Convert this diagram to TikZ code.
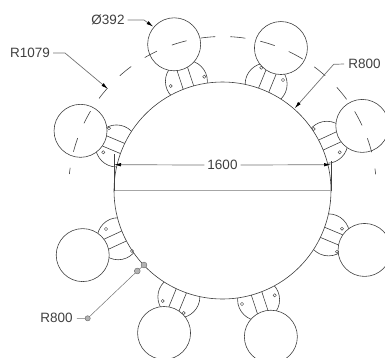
\documentclass[tikz,border=0pt]{standalone}
\usepackage{fontspec}
\setmainfont{Liberation Sans}
\usetikzlibrary{arrows.meta}
\definecolor{ink}{gray}{0.25}
\definecolor{lead}{gray}{0.45}
\tikzset{
  outline/.style={draw=ink,line width=0.6pt},
  shell/.style={outline,fill=white},
  dim/.style={draw=lead,line width=0.7pt},
  tipped/.style={dim,-{Latex[length=7pt,width=3.5pt,black]}},
  label/.style={text=ink,font=\fontsize{13.5}{15}\selectfont,inner sep=0pt,anchor=center},
  grip/.style={draw=lead,fill=gray!60,line width=0.5pt}
}
\begin{document}
\begin{tikzpicture}[x=1pt,y=-1pt]
\useasboundingbox (0,0) rectangle (385,357);
\clip (0,0) rectangle (385,357);
\def\cx{222.5}\def\cy{190.5}
\coordinate (c) at (\cx,\cy);
% small lobes, hidden by the big circles drawn above them
\foreach \t in {24.8,67.7,108.3,157.2,204.8,247.7,288.3,337.3}
  \draw[outline] ({\cx+115*cos(\t)},{\cy-115*sin(\t)}) circle[radius=21pt];
\draw[shell] (c) circle[radius=108.5pt];
\foreach \t in {24.8,67.7,108.3,157.2,204.8,247.7,288.3,337.3}{
  \draw[shell] ({\cx+154*cos(\t)},{\cy-154*sin(\t)}) circle[radius=26.5pt];
  \foreach \o in {-5.5,5.5}
    \draw[outline] ({\cx+108.4*cos(\t)+\o*sin(\t)},{\cy-108.4*sin(\t)+\o*cos(\t)})
      -- ({\cx+128*cos(\t)+\o*sin(\t)},{\cy-128*sin(\t)+\o*cos(\t)});
}
% holes
\foreach \p in {(170.7,86),(204.3,76.7),(109,128.3),(103.3,152.3),(261.3,67.7),(283,80),
  (313.7,129),(339.7,152.3),(106,229),(132,251),(162.7,301),(183.7,313),(242,304),
  (274.7,295.3),(342,228.7),(337,251.7)}
  \draw[outline,line width=0.45pt] \p circle[radius=1.6pt];
% dashed centre arc
\foreach \a/\b in {173.85/171.5,165.4/160.1,154.1/149,143.3/138.4,131.8/126.4,120.3/115.2,
  109.2/103.5,98.2/92.7,87.1/81.5,75.8/70.2,64.5/58.6,53.4/48.2,42.1/36.3,30.9/25,19.8/14.4,8.2/6}
  \draw[outline] plot[domain=\a:\b,samples=5,smooth] ({\cx+154*cos(\x)},{\cy-154*sin(\x)});
% chord and extension lines
\coordinate (cl) at (114,190.5);
\coordinate (cr) at (331,190.5);
\coordinate (el) at (114,154);
\coordinate (er) at (331,161);
\draw[dim,draw=gray!70,line width=0.9pt] (cl) -- (cr);
\draw[outline] (el) -- (cl);
\draw[outline] (er) -- (cr);
% 1600
\node[label] (d1600) at (222.5,165) {1600};
\coordinate (al) at (114,164.7);
\coordinate (ar) at (331,164.7);
\draw[tipped] (d1600.west) ++(-3,0) -- (al);
\draw[tipped] (d1600.east) ++(3,0) -- (ar);
% diameter
\node[label] (dia) at (108,20) {Ø392};
\coordinate (diaK) at (144,20);
\coordinate (diaT) at (153.3,26.7);
\draw[tipped] (dia.east) ++(3,0) -- (diaK) -- (diaT);
% R1079
\node[label] (r1) at (30,53) {R1079};
\coordinate (r1K) at (65,53);
\coordinate (r1T) at (108,89);
\draw[tipped] (r1.east) ++(3,0) -- (r1K) -- (r1T);
% R800 top right
\node[label] (r2) at (364.5,64) {R800};
\coordinate (r2K) at (333.7,64.3);
\coordinate (r2T) at (294.7,108.3);
\draw[tipped] (r2.west) ++(-4,0) -- (r2K) -- (r2T);
% R800 lower left
\node[label] (r3) at (56.5,318.3) {R800};
\coordinate (g1) at (87.7,318.3);
\coordinate (g2) at (137.3,271);
\coordinate (g3) at (144,265);
\draw[draw=lead,line width=0.5pt] (r3.east) ++(4,0) -- (g1) -- (g2) -- (g3);
\draw[grip] (g1) circle[radius=2.6pt];
\draw[grip] (g2) circle[radius=2.9pt];
\draw[grip] (g3) circle[radius=2.9pt];
\end{tikzpicture}
\end{document}
